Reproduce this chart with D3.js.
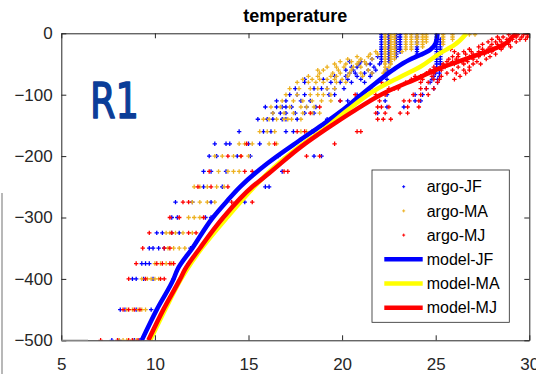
<!DOCTYPE html>
<html><head><meta charset="utf-8">
<script src="https://cdn.jsdelivr.net/npm/d3@7"></script>
<style>html,body{margin:0;padding:0;background:#fff;}svg{display:block;}</style>
</head><body>
<svg id="chart" width="536" height="374"></svg>
<script>
// ---------- data ----------
const xTicks = [5, 10, 15, 20, 25, 30];
const yTicks = [0, -100, -200, -300, -400, -500];
const legendLabels = ["argo-JF", "argo-MA", "argo-MJ", "model-JF", "model-MA", "model-MJ"];

// argo rows: [depth, temperatures...]
const argoJF = [
 [2,22.1,22.5,22.9,23.1,24.0,25.05],
 [6,22.1,22.5,22.9,23.1,24.0,25.05],
 [10,22.1,22.5,22.9,23.1,24.0,25.05,25.25],
 [14,22.1,22.5,22.9,23.1,24.0,25.05,25.25],
 [18,22.1,22.5,22.9,23.1,24.0,25.05,25.25],
 [22,22.1,22.5,22.9,23.1,24.0,25.05,25.25],
 [26,22.1,22.5,22.9,23.1,24.0,25.05,25.25],
 [30,22.1,22.5,22.9,23.1,24.0,25.05,25.25],
 [34,22.1,22.5,22.9,24.0,25.05,25.25],
 [38,21.9,22.1,22.5,22.9,25.05,25.25],
 [42,21.6,22.1,22.5,25.05,25.25],
 [46,20.4,21.0,22.1,22.5,25.05,25.25],
 [50,20.9,21.3,21.5,22.0,25.05,25.25],
 [55,20.5,20.8,21.7,25.05,25.25],
 [60,20.2,20.6,21.4,21.8,22.4,25.0,25.2],
 [65,20.4,20.7,21.2,21.6,22.3,25.0,25.2],
 [70,19.6,20.2,20.8,21.5,22.3,24.9,25.2],
 [75,18.0,19.0,20.3,21.0,22.4,24.8,25.1],
 [80,18.0,19.4,19.9,20.5,21.2,22.4,24.7,25.1],
 [90,17.5,18.5,18.9,19.2,19.6,20.1,21.5,24.5,24.9],
 [100,17.2,17.6,18.0,19.3,19.6,20.8,22.4,23.9,24.3],
 [110,16.5,17.0,17.8,18.3,19.9,20.3,21.5,22.3,23.9,24.2],
 [120,15.9,16.5,16.8,17.0,17.3,18.1,18.6,22.4,23.3],
 [130,16.3,16.7,17.0,17.5,18.0,18.5,19.8,21.9],
 [140,15.5,16.0,16.3,16.8,17.0,17.6,19.2],
 [160,14.5,15.8,16.2,17.0,17.4,18.4],
 [180,13.2,13.8,14.0,15.0,15.6],
 [200,12.9,13.3,14.4,15.1,16.6,18.5,18.9],
 [225,12.6,13.0,13.8,16.8],
 [250,12.6,13.6,15.9,16.1],
 [275,11.1,12.0,13.0,14.8],
 [300,10.9,11.2,12.7,13.0],
 [325,10.1,10.4,10.9,11.3,13.0],
 [350,9.7,9.9,10.2,10.5,11.9],
 [375,9.3,9.5,9.7,11.8],
 [400,8.8,9.0,9.4,9.9,11.0],
 [450,8.15,8.4,9.0,9.8],
 [500,7.7,8.1,8.9,9.2]
];
const argoMA = [
 [2,22.3,22.6,22.8,23.4,23.7,24.0,24.3,24.5,25.4,25.9,26.8,27.1],
 [6,22.3,22.6,22.8,23.4,23.7,24.0,24.3,24.5,25.4,25.9],
 [10,22.3,22.6,22.8,23.4,23.7,24.0,24.3,24.5,25.4,25.9],
 [14,22.3,22.6,22.8,23.4,23.7,24.0,24.3,24.5,25.4],
 [18,22.3,22.6,22.8,23.4,23.7,24.0,24.3,25.4],
 [22,22.3,22.6,22.8,23.4,23.7,24.3],
 [26,22.3,22.6,22.8,23.4,23.7],
 [30,21.8,22.3,22.6,22.8,23.2],
 [34,21.5,21.9,22.3,22.6,22.8],
 [38,20.8,21.4,22.3,22.6,22.8],
 [42,20.3,21.0,21.6,22.3,22.6,22.8],
 [46,19.9,20.5,20.9,21.2,22.3,22.6],
 [50,19.6,20.2,20.8,21.3,22.3,22.6],
 [55,19.2,19.7,20.1,20.6,21.0,22.3,22.5],
 [60,18.7,19.0,19.8,20.5,21.4,22.3],
 [65,18.8,19.5,19.9,20.4,21.0,21.6,22.2],
 [70,18.2,18.7,19.4,19.7,20.3,21.1],
 [75,17.9,18.4,18.8,19.2,19.6,20.0],
 [80,17.6,18.2,18.6,19.0,19.7,20.2],
 [90,17.2,17.7,18.3,18.7,19.2,19.6],
 [100,17.0,17.6,18.3,18.7,19.0,19.4],
 [110,16.8,17.4,17.9,18.4,18.9,19.4],
 [120,16.2,16.7,17.2,17.8,18.1,18.5],
 [130,16.3,16.9,17.4,17.9,18.4,18.8],
 [140,15.8,16.1,16.5,16.9,17.1,17.3,17.8],
 [160,15.6,16.0,16.4,17.8,18.1],
 [180,14.5,14.8,15.2,16.1,16.5],
 [200,13.2,13.6,14.2,14.6,15.0],
 [225,13.4,13.9,14.2,14.5],
 [250,12.1,12.4,12.8,13.3,13.7],
 [275,12.0,12.4,12.8,13.2],
 [300,11.8,12.1,12.4],
 [325,10.6,10.8,11.1,11.5,12.0],
 [350,10.7,11.0,11.3,11.6],
 [375,10.0,10.3,10.6,10.9],
 [400,9.3,9.6,9.8,10.0,10.2],
 [450,8.5,8.8,9.1,9.3,9.5],
 [500,8.1,8.3,8.5,8.8,9.0]
];
const argoMJ = [
 [2,28.9,29.2,29.4,29.7,29.9,30.0],
 [6,28.3,28.6,29.3,29.6,29.9],
 [10,28.0,28.4,28.8,29.1,29.5,29.8],
 [14,27.8,28.2,28.5,28.9,29.3],
 [18,27.5,28.0,28.3,28.6,28.9],
 [22,27.3,27.9,28.3,28.6,29.0],
 [26,25.8,26.8,27.5,27.8,28.1,28.5],
 [30,26.0,26.5,26.9,27.3,27.8,28.0],
 [34,26.2,26.6,27.0,27.6,28.2],
 [38,25.9,26.2,26.8,27.3,27.9],
 [42,25.7,26.1,26.6,27.0,27.7],
 [46,25.6,25.9,26.4,26.7,27.2],
 [50,25.4,26.0,26.5,27.0,27.4],
 [55,24.9,25.5,26.2,26.8],
 [60,24.7,25.3,25.9,26.5,26.8],
 [65,24.5,24.9,25.6,26.1,26.6],
 [70,23.9,24.2,24.8,25.3,26.3],
 [75,23.7,24.3,24.9,25.2,26.0],
 [80,22.1,23.4,24.2,24.6,25.1],
 [90,22.5,22.8,23.0,24.2,24.5,24.9],
 [100,20.7,21.8,22.3,23.8,24.2,24.6],
 [110,19.9,22.0,23.3,23.6,24.1],
 [120,18.8,21.9,22.1,22.5,23.5,24.1],
 [130,18.3,21.8,22.3,23.1,23.5],
 [140,19.4,21.9,22.2,22.6],
 [160,17.6,18.0,18.5,20.8,21.0],
 [180,14.9,16.4,19.6],
 [200,13.9,14.6,18.1,18.8],
 [225,12.9,14.8,15.2,16.9,17.1],
 [250,12.3,13.0,13.9],
 [275,11.5,11.8,14.1,15.2],
 [300,10.8,11.3,12.6,13.1],
 [325,9.7,10.9,11.8,12.2],
 [350,9.35,10.5,10.8],
 [375,9.0,10.1,10.4,10.8,11.0],
 [400,8.6,9.5,10.3,10.5],
 [450,8.3,8.6,8.9,9.2],
 [500,7.1,8.0,8.6,8.8,9.1]
];

// model profiles: [depth, temperature]
const modelJF = [[0,25.1],[-16,25.0],[-27,24.7],[-35,24.2],[-43,23.6],[-60,22.7],[-81,21.8],[-103,20.9],[-128,19.9],[-150,18.9],[-175,17.7],[-212,16.0],[-250,14.55],[-275,13.8],[-300,13.1],[-350,12.0],[-385,11.2],[-400,11.0],[-450,10.1],[-500,9.3]];
const modelMA = [[0,26.65],[-19,26.0],[-33,25.2],[-54,24.2],[-71,23.1],[-92,21.8],[-125,20.3],[-157,19.0],[-185,17.7],[-223,16.2],[-247,15.4],[-300,13.85],[-350,12.5],[-385,11.7],[-400,11.4],[-450,10.55],[-500,9.75]];
const modelMJ = [[0,29.35],[-3,29.2],[-19,28.6],[-30,27.7],[-43,26.5],[-57,25.2],[-71,24.2],[-98,22.2],[-125,20.7],[-157,19.1],[-185,17.8],[-228,16.1],[-250,15.2],[-300,13.65],[-350,12.4],[-385,11.6],[-400,11.35],[-450,10.45],[-500,9.65]];

// ---------- drawing ----------
const svg = d3.select("#chart");
const W = 536, H = 374;
const x = d3.scaleLinear().domain([5, 30]).range([61.3, 529.3]);
const y = d3.scaleLinear().domain([0, -500]).range([33.3, 340.3]);
const axisColor = "#262626";
const font = "'Liberation Sans', Arial, Helvetica, sans-serif";

// artifact grey line at far left
svg.append("line").attr("x1", 2).attr("x2", 2).attr("y1", 193).attr("y2", H)
  .attr("stroke", "#a0a0a0").attr("stroke-width", 1.5);

svg.append("defs").append("clipPath").attr("id", "clip")
  .append("rect").attr("x", x(5)).attr("y", y(0)).attr("width", x(30) - x(5)).attr("height", y(-500) - y(0));

const plot = svg.append("g").attr("clip-path", "url(#clip)");

const colors = { JF: "#0000ff", MA: "#edb120", MJ: "#ff0000" };
const lineColors = { JF: "#0000ff", MA: "#ffff00", MJ: "#ff0000" };

function plus(sel, cx, cy, color, s, sw) {
  sel.append("path")
    .attr("d", `M${cx - s},${cy}H${cx + s}M${cx},${cy - s}V${cy + s}`)
    .attr("stroke", color).attr("stroke-width", sw).attr("fill", "none");
}

function drawArgo(rows, color) {
  const pts = [];
  rows.forEach(r => { for (let i = 1; i < r.length; i++) pts.push([r[0], r[i]]); });
  const g = plot.append("g");
  g.selectAll("path").data(pts).join("path")
    .attr("d", d => { const cx = x(d[1]), cy = y(-d[0]), s = 2.2; return `M${cx - s},${cy}H${cx + s}M${cx},${cy - s}V${cy + s}`; })
    .attr("stroke", color).attr("stroke-width", 1.3).attr("fill", "none");
}
drawArgo(argoJF, colors.JF);
drawArgo(argoMA, colors.MA);
drawArgo(argoMJ, colors.MJ);

const line = d3.line().x(d => x(d[1])).y(d => y(d[0])).curve(d3.curveMonotoneY);
[[modelJF, lineColors.JF], [modelMA, lineColors.MA], [modelMJ, lineColors.MJ]].forEach(([data, c]) => {
  plot.append("path").datum(data).attr("d", line)
    .attr("fill", "none").attr("stroke", c).attr("stroke-width", 4.5).attr("stroke-linejoin", "round");
});

// axes
const ax = svg.append("g").attr("font-family", font);
const gB = ax.append("g").attr("transform", `translate(0,${y(-500)})`)
  .call(d3.axisBottom(x).tickValues(xTicks).tickSizeInner(-5).tickSizeOuter(0).tickPadding(17.6));
const gL = ax.append("g").attr("transform", `translate(${x(5)},0)`)
  .call(d3.axisLeft(y).tickValues(yTicks).tickSizeInner(-5).tickSizeOuter(0).tickPadding(8.6));
const gT = ax.append("g").attr("transform", `translate(0,${y(0)})`)
  .call(d3.axisTop(x).tickValues(xTicks).tickSizeInner(-5).tickSizeOuter(0).tickFormat(""));
const gR = ax.append("g").attr("transform", `translate(${x(30)},0)`)
  .call(d3.axisRight(y).tickValues(yTicks).tickSizeInner(-5).tickSizeOuter(0).tickFormat(""));
[gB, gL, gT, gR].forEach(g => {
  g.select(".domain").attr("stroke", axisColor).attr("stroke-width", 1);
  g.selectAll(".tick line").attr("stroke", axisColor).attr("stroke-width", 1);
  g.selectAll(".tick text").attr("fill", axisColor).attr("font-size", 17).attr("font-family", font);
});
// grey artifact segment at bottom-left of the x axis
svg.append("line").attr("x1", x(5)).attr("x2", 88).attr("y1", y(-500)).attr("y2", y(-500))
  .attr("stroke", "#8a8a8a").attr("stroke-width", 1.2);

// title
svg.append("text").attr("x", (x(5) + x(30)) / 2).attr("y", 22)
  .attr("text-anchor", "middle").attr("font-family", font).attr("font-weight", "bold")
  .attr("font-size", 18).attr("fill", "#000").text("temperature");

// R1 label
svg.append("text").attr("x", 90).attr("y", 118)
  .attr("font-family", "'Comic Sans MS', 'DejaVu Sans', sans-serif").attr("font-size", 50)
  .attr("textLength", 49).attr("lengthAdjust", "spacingAndGlyphs")
  .attr("fill", "#0b3d98").attr("stroke", "#0b3d98").attr("stroke-width", 1.6)
  .attr("stroke-linejoin", "round").text("R1");

// legend
const lg = svg.append("g");
lg.append("rect").attr("x", 372).attr("y", 170).attr("width", 137.3).attr("height", 152.3)
  .attr("fill", "#fff").attr("stroke", axisColor).attr("stroke-width", 0.8);
const keys = ["JF", "MA", "MJ"];
legendLabels.forEach((lab, i) => {
  const cy = 186.7 + i * 24.2;
  if (i < 3) {
    plus(lg, 403.7, cy, colors[keys[i]], 1.5, 1);
  } else {
    lg.append("line").attr("x1", 384.3).attr("x2", 422.7).attr("y1", cy).attr("y2", cy)
      .attr("stroke", lineColors[keys[i - 3]]).attr("stroke-width", 4.5);
  }
  lg.append("text").attr("x", 426.7).attr("y", cy).attr("dy", "0.35em")
    .attr("font-family", font).attr("font-size", 16).attr("fill", "#000").text(lab);
});
</script>
</body></html>
